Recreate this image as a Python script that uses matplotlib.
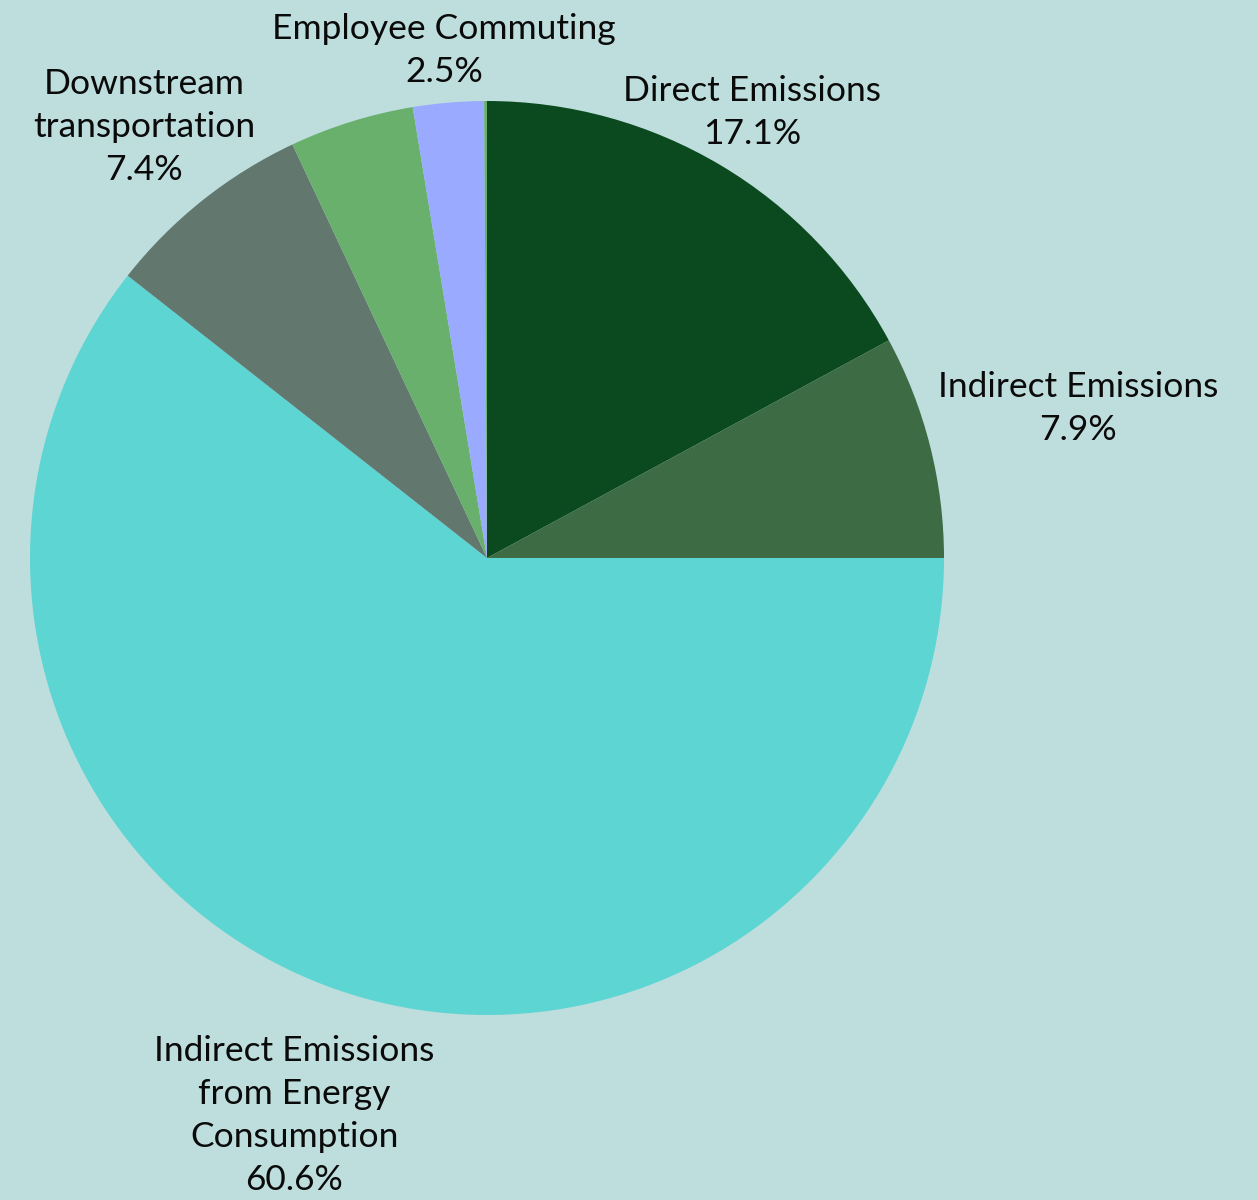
import matplotlib
matplotlib.use("Agg")
import matplotlib.pyplot as plt
import numpy as np

# slices, clockwise from 12 o'clock
categories = ["Direct Emissions", "Indirect Emissions",
              "Indirect Emissions\nfrom Energy\nConsumption",
              "Downstream\ntransportation", "Other", "Employee Commuting", "Other (small)"]
shares = [17.1, 7.9, 60.6, 7.4, 4.4, 2.5, 0.1]
colors = ["#0b4a1f", "#3d6b44", "#5dd5d3", "#62776d", "#69b06d", "#9aaaff", "#69b06d"]
show_label = [True, True, True, True, False, True, False]
label_dist = [1.135, 1.335, 1.29, 1.205, 1.2, 1.115, 1.2]

BG = "#bedeDD"

plt.rcParams['font.family'] = ['Lato', 'DejaVu Sans']

fig = plt.figure(figsize=(12.57, 12.0), dpi=100)
fig.patch.set_facecolor(BG)
ax = fig.add_axes([30 / 1257, (1200 - 1015) / 1200, 914 / 1257, 914 / 1200])
ax.set_facecolor(BG)

wedges, _ = ax.pie(shares, colors=colors, startangle=90, counterclock=False,
                   radius=1.0, wedgeprops=dict(linewidth=0))

# outside labels, placed along each slice's middle angle
for w, name, val, show, d in zip(wedges, categories, shares, show_label, label_dist):
    if not show:
        continue
    ang = np.deg2rad((w.theta1 + w.theta2) / 2)
    ax.text(d * np.cos(ang), d * np.sin(ang), f"{name}\n{val:.1f}%",
            ha="center", va="center", fontsize=25.5, color="#0a0a0a",
            linespacing=1.42, clip_on=False)

ax.set_xlim(-1, 1)
ax.set_ylim(-1, 1)
ax.set_aspect("equal")
ax.axis("off")

fig.savefig("out.png", dpi=100, facecolor=BG)
